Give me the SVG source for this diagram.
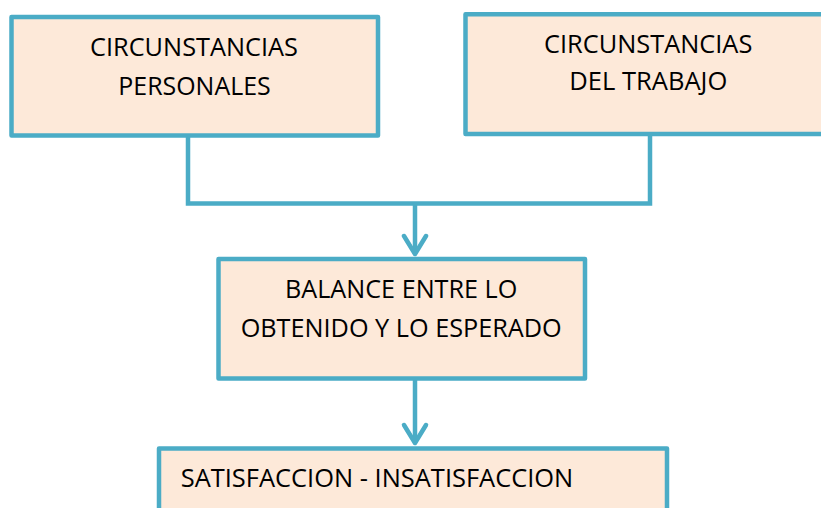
<svg xmlns="http://www.w3.org/2000/svg" width="821" height="508" viewBox="0 0 821 508">
<defs>
<style>
.box{fill:#FDE9D9;stroke:#4BACC6;stroke-width:4.5;stroke-linejoin:round}
.conn{fill:none;stroke:#4BACC6;stroke-width:4.5;stroke-linejoin:miter}
.t{font-family:"Open Sans","Liberation Sans",sans-serif;font-size:25px;fill:#000;lengthAdjust:spacingAndGlyphs}
</style>
<marker id="chev" markerUnits="userSpaceOnUse" viewBox="-24 -16 30 32" markerWidth="30" markerHeight="32" refX="0" refY="0" orient="auto">
<path d="M-18,-11 L0,0 L-18,11" fill="none" stroke="#4BACC6" stroke-width="4.5" stroke-linecap="round" stroke-linejoin="round"/>
</marker>
</defs>
<rect width="821" height="508" fill="#fff"/>
<g id="connectors">
<polyline class="conn" points="188,135 188,203.5 650,203.5 650,134"/>
<line class="conn" x1="415" y1="203.5" x2="415" y2="254" marker-end="url(#chev)"/>
<line class="conn" x1="415" y1="378" x2="415" y2="443" marker-end="url(#chev)"/>
</g>
<g id="n1">
<rect class="box" x="11.5" y="17" width="366.5" height="118.5"/>
<text class="t" x="90" y="56" textLength="208" lengthAdjust="spacingAndGlyphs">CIRCUNSTANCIAS</text>
<text class="t" x="118.3" y="95" textLength="152.4" lengthAdjust="spacingAndGlyphs">PERSONALES</text>
</g>
<g id="n2">
<rect class="box" x="465.5" y="14.3" width="370" height="119.7"/>
<text class="t" x="544" y="53.3" textLength="208.3" lengthAdjust="spacingAndGlyphs">CIRCUNSTANCIAS</text>
<text class="t" x="569.3" y="90" textLength="158" lengthAdjust="spacingAndGlyphs">DEL TRABAJO</text>
</g>
<g id="n3">
<rect class="box" x="218.5" y="259" width="366.5" height="119.5"/>
<text class="t" x="285" y="297.7" textLength="232.3" lengthAdjust="spacingAndGlyphs">BALANCE ENTRE LO</text>
<text class="t" x="240.7" y="336.7" textLength="321" lengthAdjust="spacingAndGlyphs">OBTENIDO Y LO ESPERADO</text>
</g>
<g id="n4">
<rect class="box" x="159" y="448.5" width="508" height="80"/>
<text class="t" x="180.7" y="487.3" textLength="392.6" lengthAdjust="spacingAndGlyphs">SATISFACCION - INSATISFACCION</text>
</g>
</svg>
